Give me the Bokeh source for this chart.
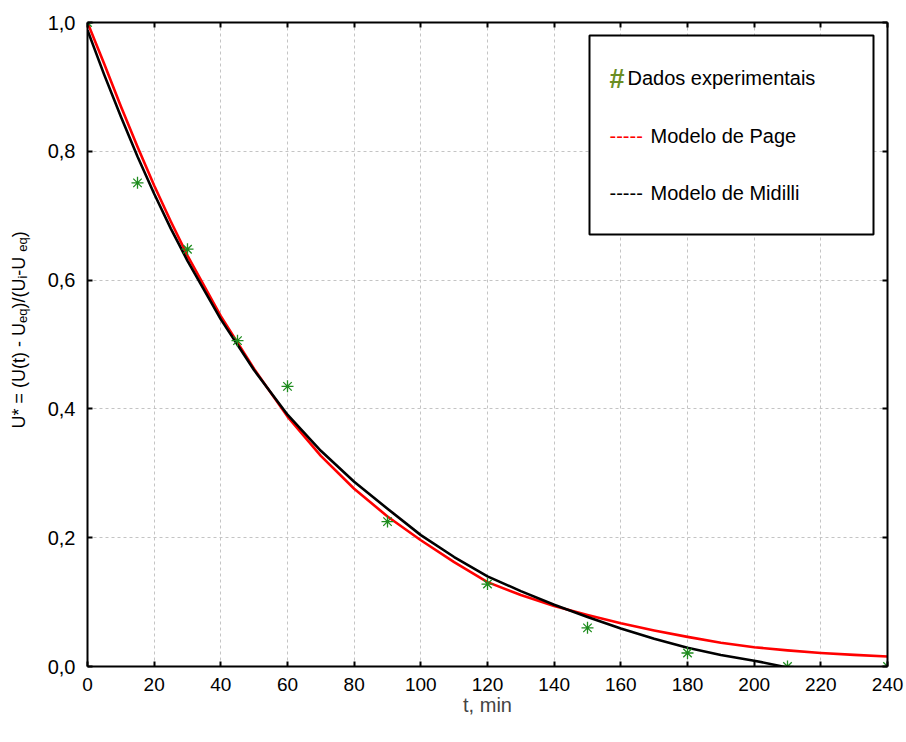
import math
from bokeh.plotting import figure
from bokeh.layouts import row
from bokeh.models import Range1d, LinearAxis, FixedTicker, Label, BoxAnnotation
from bokeh.embed import file_html
from bokeh.resources import INLINE

# ---------------- data ----------------
t_exp = [0, 15, 30, 45, 60, 90, 120, 150, 180, 210, 240]
u_exp = [1.0, 0.751, 0.648, 0.506, 0.435, 0.225, 0.128, 0.060, 0.021, 0.0, 0.0]

t_page = [0, 5, 10, 15, 20, 25, 30, 40, 50, 60, 70, 80, 90, 100, 110, 120, 130,
          140, 150, 160, 170, 180, 190, 200, 210, 220, 230, 240]
u_page = [1.0, 0.936, 0.870, 0.807, 0.747, 0.691, 0.638, 0.544, 0.462, 0.388,
          0.327, 0.276, 0.233, 0.196, 0.162, 0.131, 0.111, 0.094, 0.080, 0.067,
          0.056, 0.046, 0.037, 0.030, 0.025, 0.021, 0.018, 0.0155]

t_midilli = [0, 5, 10, 15, 20, 25, 30, 40, 50, 60, 70, 80, 90, 100, 110, 120,
             130, 140, 150, 160, 170, 180, 190, 200, 210]
u_midilli = [0.988, 0.919, 0.854, 0.792, 0.734, 0.680, 0.630, 0.539, 0.460,
             0.391, 0.335, 0.287, 0.245, 0.204, 0.170, 0.140, 0.117, 0.096,
             0.077, 0.059, 0.043, 0.029, 0.018, 0.009, -0.0015]

x_ticks = [0, 20, 40, 60, 80, 100, 120, 140, 160, 180, 200, 220, 240]
x_tick_labels = ["0", "20", "40", "60", "80", "100", "120", "140", "160", "180",
                 "200", "220", "240"]
y_ticks = [0.0, 0.2, 0.4, 0.6, 0.8, 1.0]
y_tick_labels = ["0,0", "0,2", "0,4", "0,6", "0,8", "1,0"]

legend_labels = ["Dados experimentais", "Modelo de Page", "Modelo de Midilli"]
x_label = "t, min"

FONT = "Liberation Sans"
LAB_W = 40          # width of the strip holding the rotated y-axis title
FRAME_L = 87        # absolute pixel of the plot frame's left edge
FRAME_T, FRAME_B = 22, 666

# ---------------- main figure ----------------
p = figure(width=906 - LAB_W, height=742, x_range=Range1d(0, 240),
           y_range=Range1d(0, 1), output_backend="svg", toolbar_location=None,
           min_border_left=FRAME_L - LAB_W, min_border_right=19,
           min_border_top=FRAME_T, min_border_bottom=742 - FRAME_B)
p.outline_line_color = None
p.background_fill_color = "white"
p.border_fill_color = "white"


def style_axis(ax, ticks):
    ax.ticker = FixedTicker(ticks=ticks)
    ax.axis_line_width = 2
    ax.axis_line_color = "black"
    ax.major_tick_in = 5
    ax.major_tick_out = 0
    ax.major_tick_line_width = 2
    ax.minor_tick_in = 0
    ax.minor_tick_out = 0
    ax.major_label_text_font = FONT
    ax.major_label_text_font_size = "20px"
    ax.major_label_text_color = "black"


style_axis(p.xaxis[0], x_ticks)
style_axis(p.yaxis[0], y_ticks)
p.xaxis[0].major_label_overrides = {k: v for k, v in zip(x_ticks, x_tick_labels)}
p.yaxis[0].major_label_overrides = {k: v for k, v in zip(y_ticks, y_tick_labels)}
p.xaxis[0].major_label_text_font_size = "19px"
p.xaxis[0].major_label_standoff = 11
p.yaxis[0].major_label_standoff = 12
p.xaxis[0].axis_label = x_label
p.xaxis[0].axis_label_text_font = FONT
p.xaxis[0].axis_label_text_font_size = "20px"
p.xaxis[0].axis_label_text_font_style = "normal"
p.xaxis[0].axis_label_standoff = 0

top = LinearAxis()
style_axis(top, x_ticks)
top.major_label_text_color = None
top.major_label_standoff = 0
p.add_layout(top, "above")

right = LinearAxis()
style_axis(right, y_ticks)
right.major_label_text_color = None
right.major_label_standoff = 0
p.add_layout(right, "right")

for g, tk in ((p.xgrid[0], x_ticks), (p.ygrid[0], y_ticks)):
    g.ticker = FixedTicker(ticks=tk)
    g.grid_line_color = "#c4c4c4"
    g.grid_line_dash = "3 3"
    g.grid_line_width = 1

# ---------------- glyphs ----------------
p.line(t_page, u_page, line_color="#ff0000", line_width=2.6, line_join="round")
p.line(t_midilli, u_midilli, line_color="black", line_width=2.6, line_join="round")
p.scatter(t_exp, u_exp, marker="asterisk", size=12, line_color="#1e8c1e",
          line_width=1.3)

# ---------------- legend (manual, Statistica-like) ----------------
def px_to_t(px):
    return (px - FRAME_L) / (800 / 240)


def py_to_u(py):
    return (FRAME_B - py) / (FRAME_B - FRAME_T)


p.add_layout(BoxAnnotation(left=px_to_t(589), right=px_to_t(873),
                           top=py_to_u(35), bottom=py_to_u(234),
                           fill_color="white", fill_alpha=1.0,
                           line_color="black", line_width=2, line_alpha=1.0))

p.add_layout(Label(x=px_to_t(609), y=py_to_u(78), text="#", text_font=FONT,
                   text_font_size="27px", text_font_style="bold",
                   text_color="#6b8e23", text_baseline="alphabetic"))
p.add_layout(Label(x=px_to_t(627), y=py_to_u(77), text=legend_labels[0],
                   text_font=FONT, text_font_size="20px", text_color="black",
                   text_baseline="alphabetic"))
for i, (col, lab_txt) in enumerate((("#ff0000", legend_labels[1]),
                                    ("black", legend_labels[2]))):
    yb = [135, 192][i]
    p.add_layout(Label(x=px_to_t(609), y=py_to_u(yb), text="-----",
                       text_font=FONT, text_font_size="20px", text_color=col,
                       text_baseline="alphabetic"))
    p.add_layout(Label(x=px_to_t(650), y=py_to_u(yb), text=lab_txt,
                       text_font=FONT, text_font_size="20px", text_color="black",
                       text_baseline="alphabetic"))

# ---------------- y-axis title strip with subscripts (rotated) ----------------
# The row aligns this strip's frame with the main frame (rows 22..666), so its
# y range is expressed in pixels counted from the bottom of the canvas.
lab = figure(width=LAB_W, height=742, x_range=Range1d(0, LAB_W),
             y_range=Range1d(742 - FRAME_B, 742 - FRAME_T),
             output_backend="svg", toolbar_location=None,
             x_axis_type=None, y_axis_type=None,
             min_border_left=0, min_border_right=0, min_border_top=FRAME_T,
             min_border_bottom=742 - FRAME_B)
lab.grid.visible = False
lab.outline_line_color = None
lab.background_fill_color = "white"
lab.border_fill_color = "white"

main_fs, sub_fs = 18, 13
pieces = [("U* = (U(t) - U", False, 5.861), ("eq", True, 1.112),
          (")/(U", False, 1.666), ("i", True, 0.222),
          (" -U", False, 1.333), ("eq", True, 1.112), (")", False, 0.333)]
start_pix = 428.0   # bottom end (pixel from top) of the title
offset = 0.0
for txt, sub, em in pieces:
    fs = sub_fs if sub else main_fs
    lab.add_layout(Label(x=18, y=742 - start_pix, x_offset=(4 if sub else 0),
                         y_offset=offset, text=txt, angle=math.pi / 2,
                         text_font=FONT, text_font_size=f"{fs}px",
                         text_color="black", text_align="left",
                         text_baseline="alphabetic"))
    offset += em * fs

layout = row(lab, p)
open("out.html", "w").write(file_html(layout, INLINE))
